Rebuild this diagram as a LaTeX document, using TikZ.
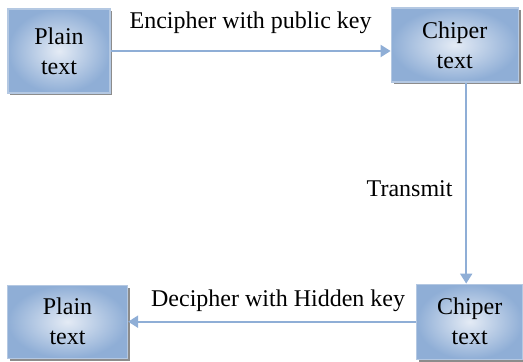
\documentclass[tikz,border=0pt]{standalone}
\usepackage{fontspec}
\setmainfont{Liberation Serif}
\usepackage{tikz}
\usetikzlibrary{arrows.meta,positioning,shadows}
\definecolor{KeyBlue}{HTML}{8FAED6}
\definecolor{KeyLight}{HTML}{E4EBF5}
\definecolor{KeyEdge}{HTML}{B4C8E2}
\definecolor{KeyShadow}{HTML}{7F7F7F}
\tikzset{
  msgbox/.style={rectangle,draw=KeyEdge,line width=0.6pt,inner color=KeyLight,outer color=KeyBlue,align=center,font=\fontsize{12}{15}\selectfont,drop shadow={shadow xshift=1.2pt,shadow yshift=-1.2pt,fill=KeyShadow,opacity=0.9}},
  arrow/.style={-{Triangle[length=5pt,width=6pt]},line width=1pt,color=KeyBlue},
}

\begin{document}
\begin{tikzpicture}[every node/.style={font=\fontsize{12}{15}\selectfont}]
  \useasboundingbox (0,0) rectangle (261.5pt,181pt);

  % Sender side
  \node[msgbox, minimum width=51pt, minimum height=42pt] (plainA) at (29.5pt,155.5pt) {Plain\\text};
  \node[msgbox, minimum width=63.5pt, minimum height=37pt, right=140pt of plainA, yshift=3pt] (chiperA) {Chiper\\text};

  % Receiver side
  \node[msgbox, minimum width=53pt, minimum height=37.5pt, below=100.5pt of chiperA, xshift=7.5pt] (chiperB) {Chiper\\text};
  \node[msgbox, minimum width=60pt, minimum height=36.5pt, left=144pt of chiperB] (plainB) {Plain\\text};

  % Arrows
  \draw[arrow] (plainA.east) -- node[above=5pt,text=black]{Encipher with public key} (plainA.east -| chiperA.west);
  \draw[arrow] ([xshift=5.75pt]chiperA.south) -- node[left=3pt,yshift=-3pt,text=black]{Transmit} ([xshift=5.75pt]chiperA.south |- chiperB.north);
  \draw[arrow] (chiperB.west |- plainB.east) -- node[above=1pt,xshift=3pt,text=black]{Decipher with Hidden key} (plainB.east);
\end{tikzpicture}
\end{document}
